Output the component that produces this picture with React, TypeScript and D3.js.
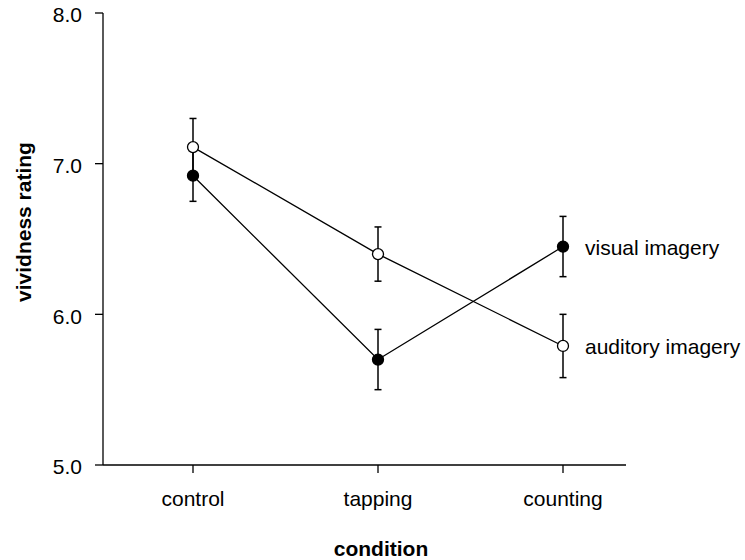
import React from "react";
import * as d3 from "d3";

const categories = ["control", "tapping", "counting"];
const yTicks = [5.0, 6.0, 7.0, 8.0];
const visualMean = [6.92, 5.70, 6.45];
const visualErr = [0.17, 0.2, 0.2];
const auditoryMean = [7.11, 6.40, 5.79];
const auditoryErr = [0.19, 0.18, 0.21];
const seriesNames = ["visual imagery", "auditory imagery"];

export default function App() {
  const W = 745, H = 560;
  const x = d3.scalePoint<string>().domain(categories).range([193, 563]);
  const y = d3.scaleLinear().domain([5, 8]).range([465, 13]);
  const axisX0 = 103, axisX1 = 626;
  const font = "'Liberation Sans', Arial, sans-serif";
  const line = d3.line<number>().x((_, i) => x(categories[i])!).y((d) => y(d));
  const series = [
    { mean: visualMean, err: visualErr, fill: "#000", name: seriesNames[0] },
    { mean: auditoryMean, err: auditoryErr, fill: "#fff", name: seriesNames[1] },
  ];
  return (
    <svg width={W} height={H} style={{ position: "absolute", left: 0, top: 0 }} fontFamily={font}>
      <rect width={W} height={H} fill="#fff" />
      <line x1={axisX0} x2={axisX0} y1={y(8)} y2={y(5)} stroke="#000" strokeWidth={1.3} />
      <line x1={axisX0} x2={axisX1} y1={y(5)} y2={y(5)} stroke="#000" strokeWidth={1.3} />
      {yTicks.map((t) => (
        <g key={t}>
          <line x1={axisX0 - 8} x2={axisX0} y1={y(t)} y2={y(t)} stroke="#000" strokeWidth={1.3} />
          <text x={82} y={y(t)} dy="0.45em" textAnchor="end" fontSize={21}>{t.toFixed(1)}</text>
        </g>
      ))}
      {categories.map((c) => (
        <g key={c}>
          <line x1={x(c)} x2={x(c)} y1={y(5)} y2={y(5) + 8} stroke="#000" strokeWidth={1.3} />
          <text x={x(c)} y={506} textAnchor="middle" fontSize={21}>{c}</text>
        </g>
      ))}
      <text x={381} y={556} textAnchor="middle" fontSize={21} fontWeight="bold">condition</text>
      <text transform={`translate(31,222) rotate(-90)`} textAnchor="middle" fontSize={21} fontWeight="bold">vividness rating</text>
      {series.map((s) => (
        <g key={s.name}>
          <path d={line(s.mean)!} fill="none" stroke="#000" strokeWidth={1.3} />
          {s.mean.map((m, i) => {
            const cx = x(categories[i])!;
            return (
              <g key={i}>
                <line x1={cx} x2={cx} y1={y(m + s.err[i])} y2={y(m - s.err[i])} stroke="#000" strokeWidth={1.5} />
                <line x1={cx - 3.5} x2={cx + 3.5} y1={y(m + s.err[i])} y2={y(m + s.err[i])} stroke="#000" strokeWidth={1.5} />
                <line x1={cx - 3.5} x2={cx + 3.5} y1={y(m - s.err[i])} y2={y(m - s.err[i])} stroke="#000" strokeWidth={1.5} />
              </g>
            );
          })}
        </g>
      ))}
      {series.map((s) => (
        <g key={s.name + "pts"}>
          {s.mean.map((m, i) => (
            <circle key={i} cx={x(categories[i])} cy={y(m)} r={5.5} fill={s.fill} stroke="#000" strokeWidth={1.3} />
          ))}
          <text x={585} y={y(s.mean[2])} dy="0.4em" fontSize={21}>{s.name}</text>
        </g>
      ))}
    </svg>
  );
}
